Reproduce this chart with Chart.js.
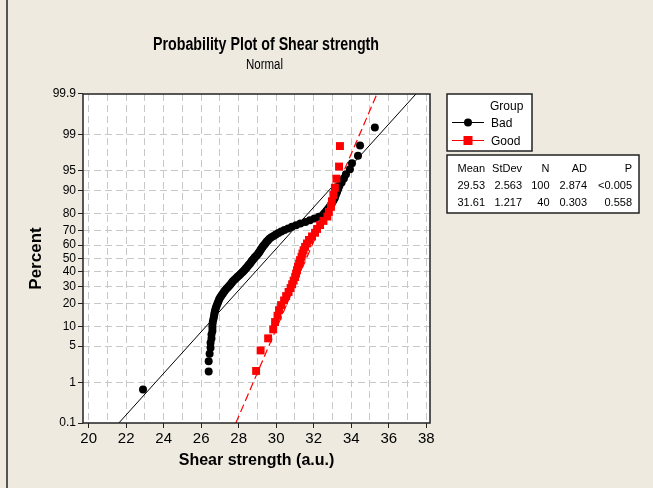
<!DOCTYPE html>
<html>
<head>
<meta charset="utf-8">
<script src="https://cdn.jsdelivr.net/npm/chart.js@4.4.0/dist/chart.umd.min.js"></script>
<style>
  html, body { margin: 0; padding: 0; background: #EEEAE0; }
  canvas { display: block; }
</style>
</head>
<body>
<canvas id="probChart" width="653" height="488"></canvas>
<script>
// Shear strength values, sorted low to high
const badStrength = [
    22.9, 26.4, 26.4, 26.45, 26.5, 26.5, 26.55, 26.55, 26.6, 26.6,
    26.6, 26.62, 26.65, 26.68, 26.7, 26.72, 26.75, 26.78, 26.82, 26.86,
    26.9, 26.94, 26.98, 27.04, 27.1, 27.16, 27.22, 27.28, 27.36, 27.44,
    27.51, 27.58, 27.64, 27.7, 27.78, 27.86, 27.94, 28.02, 28.1, 28.18,
    28.25, 28.31, 28.38, 28.44, 28.5, 28.56, 28.62, 28.67, 28.72, 28.78,
    28.84, 28.9, 28.97, 29.03, 29.08, 29.13, 29.17, 29.22, 29.27, 29.32,
    29.38, 29.44, 29.5, 29.57, 29.64, 29.74, 29.86, 29.98, 30.12, 30.27,
    30.44, 30.64, 30.84, 31.06, 31.29, 31.56, 31.8, 32.04, 32.28, 32.5,
    32.58, 32.67, 32.76, 32.84, 32.92, 32.99, 33.06, 33.13, 33.18, 33.24,
    33.3, 33.37, 33.49, 33.61, 33.72, 33.93, 34.04, 34.36, 34.47, 35.26
];
const goodStrength = [
    28.93, 29.17, 29.57, 29.84, 29.94, 30.07, 30.15, 30.26, 30.42, 30.53,
    30.66, 30.77, 30.85, 30.93, 31.01, 31.06, 31.11, 31.16, 31.22, 31.27,
    31.35, 31.4, 31.46, 31.54, 31.64, 31.75, 31.91, 32.07, 32.18, 32.34,
    32.52, 32.73, 32.81, 32.92, 32.97, 33.05, 33.13, 33.21, 33.35, 33.4
];

// Normal fit summary from the table
const groupNames = ['Bad', 'Good'];
const groupMean = [29.53, 31.61];
const groupStDev = [2.563, 1.217];
const groupN = [100, 40];
const groupAD = ['2.874', '0.303'];
const groupP = ['<0.005', '0.558'];

// Axis ticks
const percentTicks = [0.1, 1, 5, 10, 20, 30, 40, 50, 60, 70, 80, 90, 95, 99, 99.9];
const strengthTicks = [20, 21, 22, 23, 24, 25, 26, 27, 28, 29, 30, 31, 32, 33, 34, 35, 36, 37, 38];

const REGULAR = '"Liberation Sans", "DejaVu Sans", sans-serif';

// Inverse standard normal CDF (Acklam)
function normInv(p) {
    const a = [-3.969683028665376e+01, 2.209460984245205e+02, -2.759285104469687e+02, 1.383577518672690e+02, -3.066479806614716e+01, 2.506628277459239e+00];
    const b = [-5.447609879822406e+01, 1.615858368580409e+02, -1.556989798598866e+02, 6.680131188771972e+01, -1.328068155288572e+01];
    const c = [-7.784894002430293e-03, -3.223964580411365e-01, -2.400758277161838e+00, -2.549732539343734e+00, 4.374664141464968e+00, 2.938163982698783e+00];
    const d = [7.784695709041462e-03, 3.224671290700398e-01, 2.445134137142996e+00, 3.754408661907416e+00];
    const pLow = 0.02425;
    let q, r;
    if (p < pLow) {
        q = Math.sqrt(-2 * Math.log(p));
        return (((((c[0] * q + c[1]) * q + c[2]) * q + c[3]) * q + c[4]) * q + c[5]) /
            ((((d[0] * q + d[1]) * q + d[2]) * q + d[3]) * q + 1);
    }
    if (p <= 1 - pLow) {
        q = p - 0.5;
        r = q * q;
        return (((((a[0] * r + a[1]) * r + a[2]) * r + a[3]) * r + a[4]) * r + a[5]) * q /
            (((((b[0] * r + b[1]) * r + b[2]) * r + b[3]) * r + b[4]) * r + 1);
    }
    q = Math.sqrt(-2 * Math.log(1 - p));
    return -(((((c[0] * q + c[1]) * q + c[2]) * q + c[3]) * q + c[4]) * q + c[5]) /
        ((((d[0] * q + d[1]) * q + d[2]) * q + d[3]) * q + 1);
}

const zMin = normInv(0.001);
const zMax = normInv(0.999);

// Median rank plotting positions, in normal score units
const toPoints = (values) => values.map((v, i) => ({
    x: v,
    y: normInv((i + 1 - 0.3) / (values.length + 0.4))
}));

// Fitted line from 0.1% to 99.9%
const fitLine = (mean, sd) => [zMin, zMax].map(z => ({ x: mean + z * sd, y: z }));

// Centered text squeezed to a given width (the original uses a narrow face)
function drawNarrow(ctx, text, cx, y, font, width) {
    ctx.save();
    ctx.font = font;
    const k = width / ctx.measureText(text).width;
    ctx.translate(cx, y);
    ctx.scale(k, 1);
    ctx.textAlign = 'center';
    ctx.fillText(text, 0, 0);
    ctx.restore();
}

// Background, frame, title, legend and stats table
const decorPlugin = {
    id: 'decor',
    beforeDraw(chart) {
        const { ctx, chartArea: a } = chart;
        ctx.save();
        ctx.fillStyle = '#EEEAE0';
        ctx.fillRect(0, 0, chart.width, chart.height);
        ctx.fillStyle = '#FFFFFF';
        ctx.fillRect(a.left, a.top, a.right - a.left, a.bottom - a.top);
        ctx.strokeStyle = '#555';
        ctx.lineWidth = 2;
        ctx.beginPath();
        ctx.moveTo(7, 0);
        ctx.lineTo(7, chart.height);
        ctx.stroke();
        ctx.restore();
    },
    afterDraw(chart) {
        const { ctx, chartArea: a } = chart;
        ctx.save();

        // plot frame
        ctx.strokeStyle = '#222';
        ctx.lineWidth = 1.5;
        ctx.strokeRect(a.left, a.top, a.right - a.left, a.bottom - a.top);

        // titles
        ctx.fillStyle = '#000';
        ctx.textBaseline = 'alphabetic';
        drawNarrow(ctx, 'Probability Plot of Shear strength', 266, 50, 'bold 18px ' + REGULAR, 226);
        drawNarrow(ctx, 'Normal', 264.5, 69, '14px ' + REGULAR, 37);

        // legend box
        ctx.fillStyle = '#FFF';
        ctx.fillRect(447, 94, 85, 57);
        ctx.strokeStyle = '#222';
        ctx.lineWidth = 1.5;
        ctx.strokeRect(447, 94, 85, 57);
        ctx.fillStyle = '#000';
        ctx.textAlign = 'left';
        ctx.font = '12px ' + REGULAR;
        ctx.fillText('Group', 490, 110);
        ctx.fillText(groupNames[0], 491, 127);
        ctx.fillText(groupNames[1], 491, 144.5);

        ctx.lineWidth = 1;
        ctx.strokeStyle = '#000';
        ctx.beginPath();
        ctx.moveTo(452, 122.5);
        ctx.lineTo(484, 122.5);
        ctx.stroke();
        ctx.beginPath();
        ctx.arc(468, 122.5, 4, 0, Math.PI * 2);
        ctx.fill();

        ctx.strokeStyle = '#FF0000';
        ctx.fillStyle = '#FF0000';
        ctx.beginPath();
        ctx.moveTo(452, 140.5);
        ctx.lineTo(484, 140.5);
        ctx.stroke();
        ctx.fillRect(463.5, 136, 9, 9);

        // stats table
        ctx.fillStyle = '#FFF';
        ctx.fillRect(447, 155, 192, 58);
        ctx.strokeStyle = '#222';
        ctx.lineWidth = 1.5;
        ctx.strokeRect(447, 155, 192, 58);
        ctx.fillStyle = '#000';
        ctx.font = '11px ' + REGULAR;
        ctx.textAlign = 'right';
        const cols = [485, 522, 549.5, 587, 632];
        const header = ['Mean', 'StDev', 'N', 'AD', 'P'];
        header.forEach((h, i) => ctx.fillText(h, cols[i], 171.5));
        [189, 205.5].forEach((y, g) => {
            const row = [groupMean[g].toFixed(2), groupStDev[g].toFixed(3), String(groupN[g]), groupAD[g], groupP[g]];
            row.forEach((t, i) => ctx.fillText(t, cols[i], y));
        });

        ctx.restore();
    }
};

const ctx = document.getElementById('probChart').getContext('2d');
const probChart = new Chart(ctx, {
    type: 'scatter',
    data: {
        datasets: [
            {
                label: 'Good',
                data: toPoints(goodStrength),
                pointStyle: 'rect',
                pointRadius: 5.6,
                backgroundColor: '#FF0000',
                borderColor: '#FF0000',
                borderWidth: 0
            },
            {
                label: 'Bad',
                data: toPoints(badStrength),
                pointStyle: 'circle',
                pointRadius: 4,
                backgroundColor: '#000000',
                borderColor: '#000000',
                borderWidth: 0
            },
            {
                label: 'Good fit',
                data: fitLine(groupMean[1], groupStDev[1]),
                showLine: true,
                pointRadius: 0,
                borderColor: '#FF0000',
                borderWidth: 1.2,
                borderDash: [8, 4]
            },
            {
                label: 'Bad fit',
                data: fitLine(groupMean[0], groupStDev[0]),
                showLine: true,
                pointRadius: 0,
                borderColor: '#000000',
                borderWidth: 1
            }
        ]
    },
    options: {
        responsive: false,
        animation: false,
        devicePixelRatio: 1,
        layout: { padding: { left: 0, top: 94, right: 223, bottom: 0 } },
        plugins: {
            legend: { display: false },
            tooltip: { enabled: false }
        },
        scales: {
            x: {
                type: 'linear',
                min: 19.7,
                max: 38.2,
                afterBuildTicks: (s) => { s.ticks = strengthTicks.map(v => ({ value: v })); },
                afterFit: (s) => { s.height = 65; },
                ticks: {
                    autoSkip: false,
                    maxRotation: 0,
                    padding: 2,
                    color: '#000',
                    font: { family: REGULAR, size: 15 },
                    callback: (v) => (v % 2 === 0 ? String(v) : '')
                },
                grid: {
                    color: '#C8C8C8',
                    lineWidth: 1,
                    tickLength: 5,
                    tickColor: (c) => (c.tick && c.tick.value % 2 === 0 ? '#222' : 'rgba(0,0,0,0)')
                },
                border: { display: false, dash: [7, 4] },
                title: {
                    display: true,
                    text: 'Shear strength (a.u.)',
                    color: '#000',
                    font: { family: REGULAR, size: 16, weight: 'bold' },
                    padding: { top: 0, bottom: 17.7 }
                }
            },
            y: {
                type: 'linear',
                min: zMin,
                max: zMax,
                afterBuildTicks: (s) => { s.ticks = percentTicks.map(p => ({ value: normInv(p / 100) })); },
                afterFit: (s) => { s.width = 83; },
                ticks: {
                    autoSkip: false,
                    padding: 2,
                    color: '#000',
                    font: { family: REGULAR, size: 12 },
                    callback: (v, i) => String(percentTicks[i])
                },
                grid: {
                    color: (c) => (c.index === 0 || c.index === percentTicks.length - 1 ? 'rgba(0,0,0,0)' : '#C8C8C8'),
                    lineWidth: 1,
                    tickLength: 5,
                    tickColor: '#222'
                },
                border: { display: false, dash: [7, 4] },
                title: {
                    display: true,
                    text: 'Percent',
                    color: '#000',
                    font: { family: REGULAR, size: 17, weight: 'bold' },
                    padding: { top: 26.3, bottom: 0 }
                }
            }
        }
    },
    plugins: [decorPlugin]
});
</script>
</body>
</html>
